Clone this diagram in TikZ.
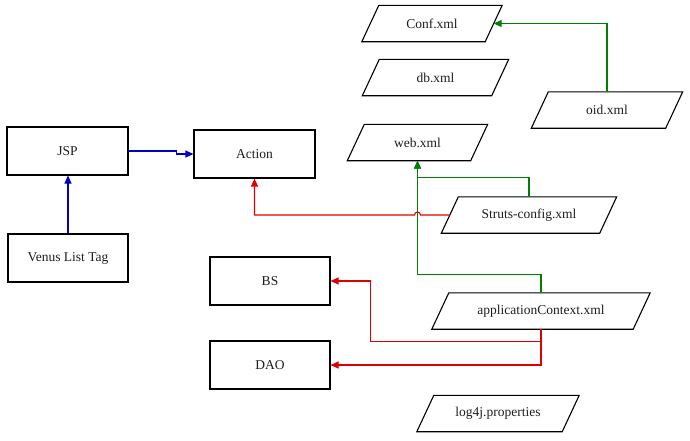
\documentclass[tikz,border=0pt]{standalone}
\usepackage{fontspec}
\setmainfont{Liberation Serif}
\newfontfamily\diagfont{Liberation Serif}
\usetikzlibrary{arrows.meta,calc}
\definecolor{cblue}{RGB}{0,0,200}
\definecolor{cred}{RGB}{225,0,0}
\definecolor{cgreen}{RGB}{0,128,0}
\definecolor{ctext}{RGB}{30,30,30}
\newcommand{\paraout}[1]{\draw[line width=1.1pt] ($(#1.south west)+(-8.5,0)$) -- ($(#1.south east)+(-8.5,0)$) -- ($(#1.north east)+(8.5,0)$) -- ($(#1.north west)+(8.5,0)$) -- cycle;}
\begin{document}
\begin{tikzpicture}[x=1pt,y=-1pt,
  every node/.style={font=\diagfont\fontsize{13.5}{15}\selectfont,text=ctext},
  rbox/.style={draw=black,line width=1.1pt,minimum width=#1,minimum height=48pt,inner sep=0pt},
  pbox/.style={minimum width=#1,minimum height=36pt,inner sep=0pt},
  conn/.style={line width=1.1pt,-{Triangle[length=8pt,width=7pt]}}]
\useasboundingbox (0,0) rectangle (690,440);
\fill[white] (0,0) rectangle (690,440);
% rectangles
\node[rbox=121pt] (jsp) at (67.5,151) {JSP};
\node[rbox=121pt] (action) at (254.5,154) {Action};
\node[rbox=120pt] (venus) at (68,258) {Venus List Tag};
\node[rbox=120pt] (bs) at (270,281) {BS};
\node[rbox=120pt] (dao) at (270,365) {DAO};
% parallelograms
\node[pbox=123pt] (conf) at (432,23.5) {Conf.xml};
\node[pbox=129pt] (db) at (435.5,77.5) {db.xml};
\node[pbox=123pt] (web) at (417.5,142.5) {web.xml};
\node[pbox=134pt] (oid) at (607,110) {oid.xml};
\node[pbox=158pt] (struts) at (529,215) {Struts-config.xml};
\node[pbox=201pt] (app) at (541,311) {applicationContext.xml};
\node[pbox=145pt] (log) at (498,413.5) {log4j.properties};
\paraout{conf}
\paraout{db}
\paraout{web}
\paraout{oid}
\paraout{struts}
\paraout{app}
\paraout{log}
% blue connectors
\draw[conn,cblue] (jsp.east) -- ++(48,0) |- (action.west);
\draw[conn,cblue] (venus.north) -- (venus.north |- jsp.south);
% green connectors
\draw[conn,cgreen] (oid.north) |- (conf.east);
\draw[conn,cgreen] (struts.north) -- ++(0,-19) -| (web.south);
\draw[conn,cgreen] (app.north) -- ++(0,-18) -| (web.south);
% red connectors
\draw[conn,cred] (struts.west) -- ($(web.south |- struts.west)+(3,0)$) arc (0:-180:3) -- (action.south |- struts.west) -- (action.south);
\draw[conn,cred] (app.south) -- ++(0,12) -| ($(bs.east)+(40,0)$) -- (bs.east);
\draw[conn,cred] (app.south) |- (dao.east);
\end{tikzpicture}
\end{document}
